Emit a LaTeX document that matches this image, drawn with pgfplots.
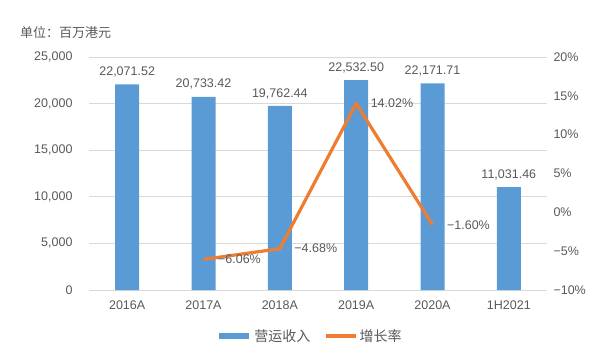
\documentclass[border=0pt]{standalone}
\usepackage{pgfplots}
\pgfplotsset{compat=1.18}
\usepackage{pgfplotstable}
\usepackage{fontspec}
\setmainfont{Liberation Sans}
\newfontfamily\cjk{Noto Sans CJK SC}
\definecolor{barblue}{HTML}{5B9BD5}
\definecolor{lineorange}{HTML}{ED7D31}
\definecolor{txt}{HTML}{595959}
\definecolor{gridc}{HTML}{D9D9D9}
\pgfplotstableread{
x y lab
0 22071.52 {22,071.52}
1 20733.42 {20,733.42}
2 19762.44 {19,762.44}
3 22532.50 {22,532.50}
4 22171.71 {22,171.71}
5 11031.46 {11,031.46}
}\revenue
\pgfplotstableread{
x y lab
1 -6.06 {−6.06\%}
2 -4.68 {−4.68\%}
3 14.02 {14.02\%}
4 -1.60 {−1.60\%}
}\growth
\begin{document}
\begin{tikzpicture}[x=1pt,y=1pt]
\useasboundingbox (0,0) rectangle (596,357);
\node[anchor=west, text=txt, font=\cjk\fontsize{13}{15}\selectfont, inner sep=0pt] at (20,324) {单位：百万港元};
\begin{axis}[
  at={(89pt,67pt)}, anchor=south west,
  scale only axis, width=458pt, height=233pt,
  xmin=-0.5, xmax=5.5, ymin=0, ymax=25000,
  axis x line*=bottom, axis y line*=left,
  x axis line style={draw=gridc, line width=0.8pt},
  y axis line style={draw=none},
  major tick length=0pt,
  xtick={0,...,5},
  xticklabels={2016A,2017A,2018A,2019A,2020A,1H2021},
  ytick={0,5000,...,25000},
  yticklabels={0,{5,000},{10,000},{15,000},{20,000},{25,000}},
  ymajorgrids, grid style={draw=gridc, line width=0.8pt},
  tick label style={text=txt, font=\fontsize{12.5}{14}\selectfont},
  yticklabel style={anchor=east, xshift=-13pt},
  xticklabel style={anchor=north, yshift=-7pt},
  scaled y ticks=false,
  clip=false,
]
\addplot[ybar, bar width=24pt, bar shift=0pt, fill=barblue, draw=none,
  point meta=explicit symbolic,
  nodes near coords,
  nodes near coords style={anchor=south, yshift=7pt, text=txt, font=\fontsize{12.5}{14}\selectfont, inner sep=0pt},
] table[x=x, y=y, meta=lab] {\revenue};
\end{axis}
\begin{axis}[
  at={(89pt,67pt)}, anchor=south west,
  scale only axis, width=458pt, height=233pt,
  xmin=-0.5, xmax=5.5, ymin=-10, ymax=20,
  axis x line=none, axis y line*=right,
  y axis line style={draw=none},
  major tick length=0pt,
  ytick={-10,-5,...,20},
  yticklabels={−10\%,−5\%,0\%,5\%,10\%,15\%,20\%},
  yticklabel style={anchor=west, xshift=3pt, text=txt, font=\fontsize{12.5}{14}\selectfont},
  clip=false,
  legend style={at={(0.4825,-0.197)}, anchor=center, draw=none, fill=none,
    legend columns=2, font=\cjk\fontsize{14}{16}\selectfont, text=txt,
    /tikz/every even column/.append style={column sep=12pt}},
  legend image code/.code={\draw[#1] (0pt,0pt) -- (30pt,0pt);},
]
\addlegendimage{barblue, line width=6pt}
\addlegendentry{营运收入}
\addplot[lineorange, line width=3.2pt, line join=round, no marks,
  point meta=explicit symbolic,
  nodes near coords,
  nodes near coords style={anchor=west, xshift=13pt, yshift=0pt, text=txt, font=\fontsize{12.5}{14}\selectfont, inner sep=0pt},
] table[x=x, y=y, meta=lab] {\growth};
\addlegendentry{增长率}
\end{axis}
\end{tikzpicture}
\end{document}
